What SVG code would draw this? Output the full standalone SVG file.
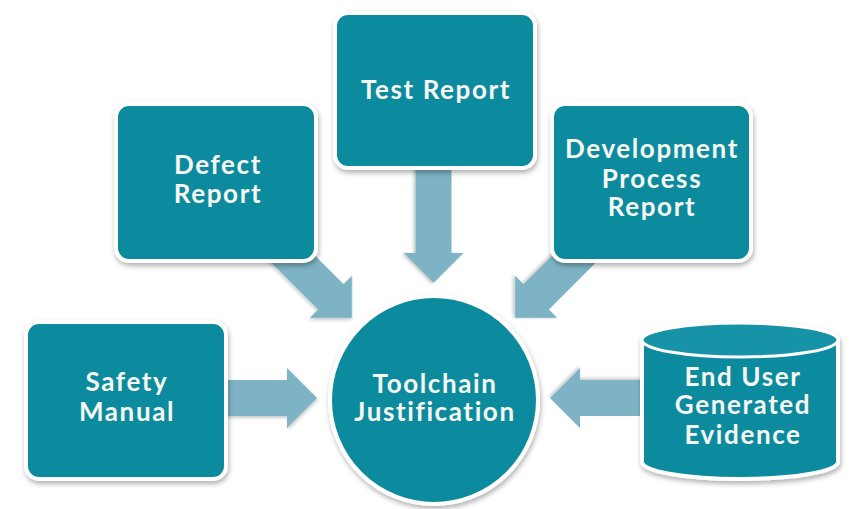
<svg xmlns="http://www.w3.org/2000/svg" width="851" height="509" viewBox="0 0 851 509">
<style>
.node{fill:#108b9e;stroke:#ffffff;stroke-width:4;filter:url(#sh)}
.top{fill:#1693a6;stroke:#ffffff;stroke-width:3}
.arr{fill:#7db3c4;filter:url(#sh2)}
.t{font-family:Lato,"Open Sans","DejaVu Sans",sans-serif;font-weight:bold;font-size:26px;fill:#f7f7f2;text-anchor:middle;letter-spacing:1.6px}
</style>
<defs>
<filter id="sh" x="-10%" y="-10%" width="125%" height="130%">
<feDropShadow dx="1" dy="3" stdDeviation="2.5" flood-color="#000" flood-opacity="0.3"/>
</filter>
<filter id="sh2" x="-10%" y="-10%" width="125%" height="130%">
<feDropShadow dx="1" dy="2" stdDeviation="1.5" flood-color="#000" flood-opacity="0.2"/>
</filter>
</defs>
<rect width="851" height="509" fill="#ffffff"/>
<g id="connectors">
<path class="arr" transform="translate(317,398)" d="M-120,-18 H-30 V-30 L0,0 L-30,30 V18 H-120 Z"/>
<path class="arr" transform="translate(550,398) rotate(180)" d="M-120,-18 H-30 V-30 L0,0 L-30,30 V18 H-120 Z"/>
<path class="arr" transform="translate(433.5,283) rotate(90)" d="M-120,-18 H-30 V-30 L0,0 L-30,30 V18 H-120 Z"/>
<path class="arr" transform="translate(352,318) rotate(45)" d="M-120,-18 H-30 V-30 L0,0 L-30,30 V18 H-120 Z"/>
<path class="arr" transform="translate(515,318) rotate(135)" d="M-120,-18 H-30 V-30 L0,0 L-30,30 V18 H-120 Z"/>
</g>
<g id="test-report">
<rect class="node" x="335" y="13" width="200" height="155" rx="13"/>
<text class="t" x="436" y="99">Test Report</text>
</g>
<g id="defect-report">
<rect class="node" x="116" y="104" width="200" height="157" rx="13"/>
<text class="t" x="218" y="174">Defect</text>
<text class="t" x="218" y="203">Report</text>
</g>
<g id="development-process-report">
<rect class="node" x="552" y="104" width="199" height="157" rx="13"/>
<text class="t" x="652" y="158">Development</text>
<text class="t" x="652" y="188">Process</text>
<text class="t" x="652" y="216">Report</text>
</g>
<g id="safety-manual">
<rect class="node" x="26" y="322" width="200" height="157" rx="13"/>
<text class="t" x="127" y="391">Safety</text>
<text class="t" x="127" y="421">Manual</text>
</g>
<g id="toolchain-justification">
<circle class="node" cx="434" cy="400" r="104"/>
<text class="t" x="435" y="393">Toolchain</text>
<text class="t" x="435" y="421">Justification</text>
</g>
<g id="end-user-generated-evidence">
<path class="node" d="M642,340 A98,17 0 0 1 838,340 V462 A98,17 0 0 1 642,462 Z"/>
<ellipse class="top" cx="740" cy="340" rx="98" ry="17"/>
<text class="t" x="743" y="386">End User</text>
<text class="t" x="743" y="414">Generated</text>
<text class="t" x="743" y="444">Evidence</text>
</g>
</svg>
